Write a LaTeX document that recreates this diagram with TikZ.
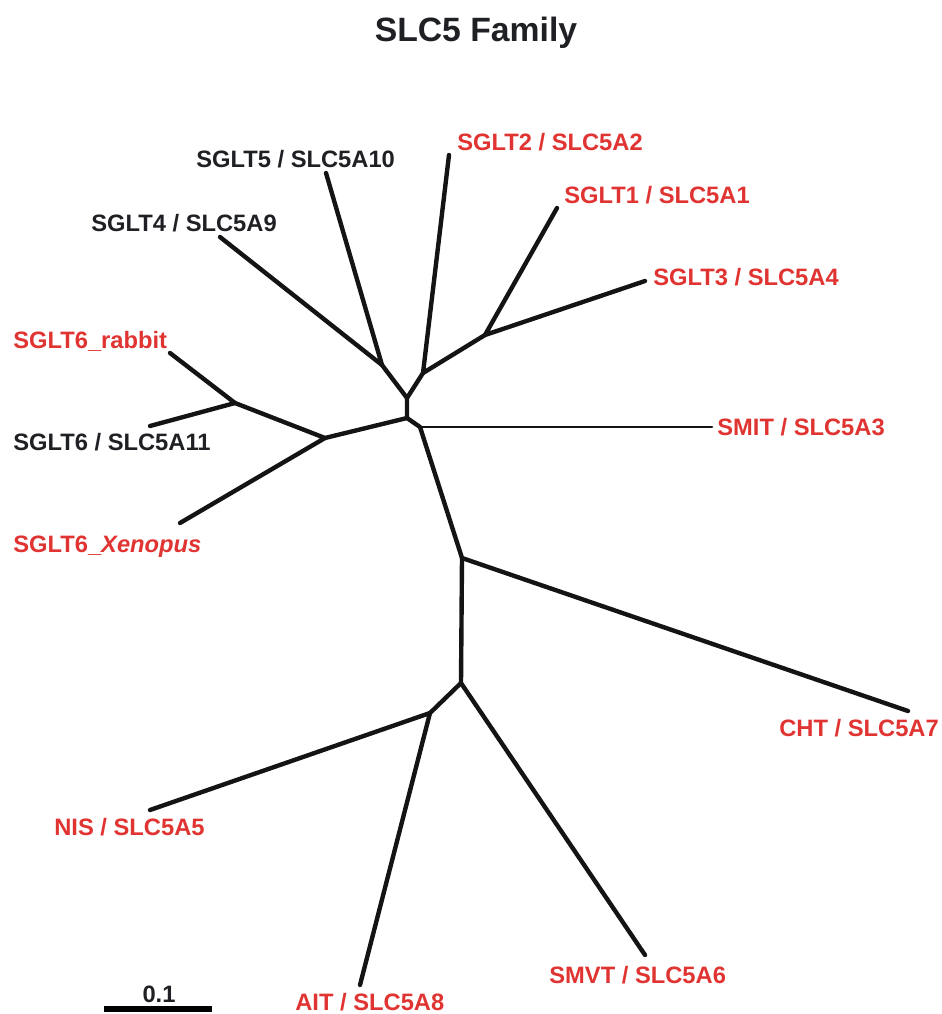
\documentclass[tikz,border=0pt]{standalone}
\usepackage{fontspec}
\setmainfont{Liberation Sans}
\definecolor{leafred}{RGB}{224,52,50}
\definecolor{leafdark}{RGB}{30,32,36}
\begin{document}
\begin{tikzpicture}[x=0.02cm,y=-0.02cm,
  branch/.style={line width=2.5pt,line cap=round,line join=round,draw=black!92},
  thinbranch/.style={line width=1.5pt,line cap=round,draw=black!92},
  lab/.style={anchor=base west,inner sep=0pt,font=\fontsize{13.5}{16}\selectfont\bfseries},
  redlab/.style={lab,text=leafred},
  darklab/.style={lab,text=leafdark}]
\useasboundingbox (0,0) rectangle (941,1014);

% title
\node[anchor=base,inner sep=0pt,text=leafdark,font=\fontsize{19.2}{23}\selectfont\bfseries] (title) at (476,41) {SLC5 Family};

% internal nodes of the tree
\coordinate (j45) at (382,365);
\coordinate (j13) at (485,335);
\coordinate (j2)  at (423,373);
\coordinate (jA)  at (407,398);
\coordinate (jB)  at (407,418);
\coordinate (j6)  at (325,438);
\coordinate (j6b) at (235,403);
\coordinate (jC)  at (420,427);
\coordinate (jD)  at (462,558);
\coordinate (jE)  at (461,683);
\coordinate (jF)  at (430,713);

% leaf tips
\coordinate (tSGLT4) at (220,237);
\coordinate (tSGLT5) at (326,173);
\coordinate (tSGLT2) at (449,155);
\coordinate (tSGLT1) at (557,208);
\coordinate (tSGLT3) at (645,281);
\coordinate (tSMIT)  at (712,427);
\coordinate (tRab)   at (170,353);
\coordinate (tA11)   at (150,426);
\coordinate (tXen)   at (180,523);
\coordinate (tCHT)   at (908,711);
\coordinate (tSMVT)  at (645,955);
\coordinate (tNIS)   at (150,810);
\coordinate (tAIT)   at (360,985);

% branches
\draw[branch] (tSGLT4) -- (j45) -- (tSGLT5);
\draw[branch] (j45) -- (jA);
\draw[branch] (tSGLT1) -- (j13) -- (tSGLT3);
\draw[branch] (j13) -- (j2) -- (tSGLT2);
\draw[branch] (j2) -- (jA) -- (jB);
\draw[branch] (jB) -- (j6);
\draw[branch] (tRab) -- (j6b) -- (tA11);
\draw[branch] (j6b) -- (j6) -- (tXen);
\draw[branch] (jB) -- (jC) -- (jD);
\draw[thinbranch] (jC) -- (tSMIT);
\draw[branch] (jD) -- (tCHT);
\draw[branch] (jD) -- (jE) -- (tSMVT);
\draw[branch] (jE) -- (jF);
\draw[branch] (tNIS) -- (jF) -- (tAIT);

% leaf labels
\node[darklab] (lSGLT5) at (196,167) {SGLT5 / SLC5A10};
\node[darklab] (lSGLT4) at (91,231) {SGLT4 / SLC5A9};
\node[redlab]  (lSGLT2) at (457,150) {SGLT2 / SLC5A2};
\node[redlab]  (lSGLT1) at (564,203) {SGLT1 / SLC5A1};
\node[redlab]  (lSGLT3) at (653,285) {SGLT3 / SLC5A4};
\node[redlab]  (lRab)   at (13,348) {SGLT6\_rabbit};
\node[darklab] (lA11)   at (13,450) {SGLT6 / SLC5A11};
\node[redlab]  (lXen)   at (13,552) {SGLT6\_\textit{Xenopus}};
\node[redlab]  (lSMIT)  at (717,435) {SMIT / SLC5A3};
\node[redlab]  (lCHT)   at (779,736) {CHT / SLC5A7};
\node[redlab]  (lNIS)   at (54,835) {NIS / SLC5A5};
\node[redlab]  (lSMVT)  at (549,983) {SMVT / SLC5A6};
\node[redlab]  (lAIT)   at (295,1010) {AIT / SLC5A8};

% scale bar
\coordinate (sL) at (104,1009);
\coordinate (sR) at (212,1009);
\draw[line width=3pt] (sL) -- (sR);
\node[anchor=base,inner sep=0pt,text=leafdark,font=\fontsize{13.5}{16}\selectfont\bfseries] (scale) at (159,1002) {0.1};
\end{tikzpicture}
\end{document}
